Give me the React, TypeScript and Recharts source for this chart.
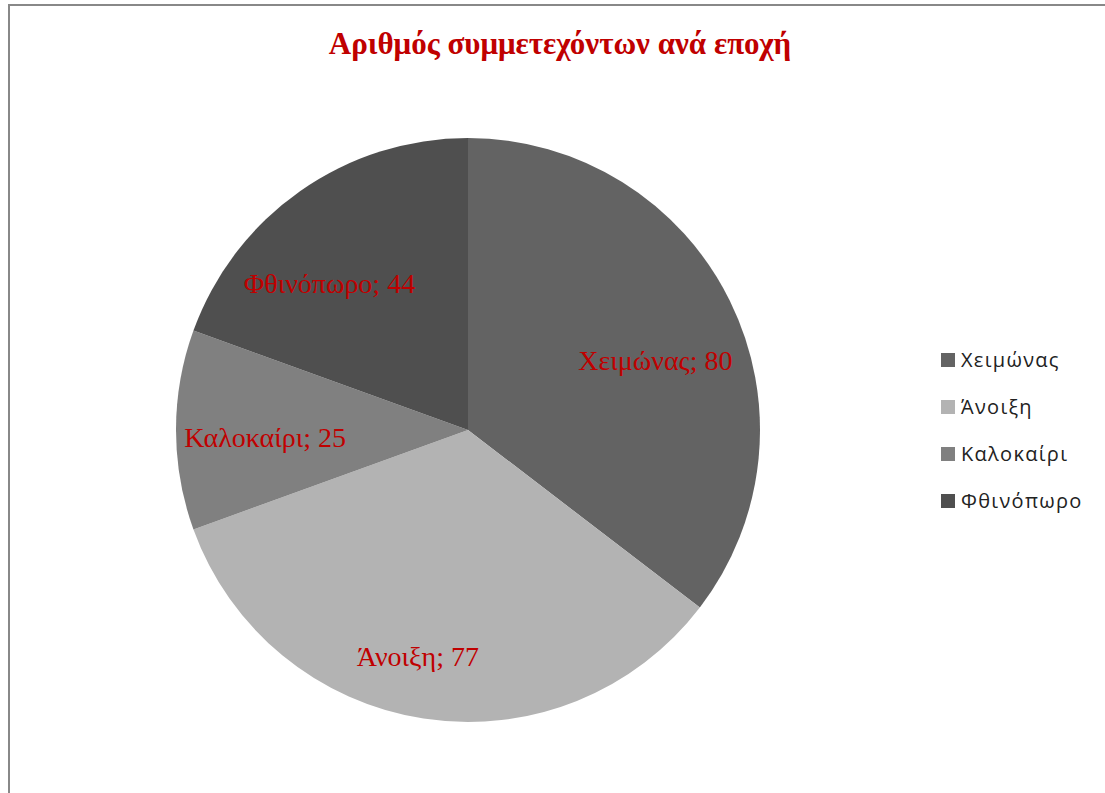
import React from "react";
import { Cell, Legend, Pie, PieChart } from "recharts";

const seasons = ["Χειμώνας", "Άνοιξη", "Καλοκαίρι", "Φθινόπωρο"];
const participants = [80, 77, 25, 44];
const sliceColors = ["#636363", "#b3b3b3", "#808080", "#4f4f4f"];
// label placement inside each slice (fraction of radius, angle nudge in degrees)
const labelRadius = [0.685, 0.795, 0.695, 0.69];
const labelNudge = [-5.8, -3.7, 2, 8.4];

const data = seasons.map((name, i) => ({ name, value: participants[i] }));

const RAD = Math.PI / 180;

function renderLabel(props: any) {
  const { cx, cy, midAngle, outerRadius, index, name, value } = props;
  const r = outerRadius * labelRadius[index];
  const a = midAngle + labelNudge[index];
  const x = cx + r * Math.cos(-a * RAD);
  const y = cy + r * Math.sin(-a * RAD);
  return (
    <text
      x={x}
      y={y}
      textAnchor="middle"
      dominantBaseline="central"
      fill="#c00000"
      style={{ fontFamily: "'Liberation Serif', serif", fontSize: 28 }}
    >
      {`${name}; ${value}`}
    </text>
  );
}

function SeasonLegend() {
  return (
    <div style={{ fontFamily: "'Open Sans', sans-serif", fontSize: 20, letterSpacing: 1.3, color: "#222" }}>
      {seasons.map((s, i) => (
        <div key={s} style={{ display: "flex", alignItems: "center", height: 47 }}>
          <span style={{ width: 14, height: 14, background: sliceColors[i], marginRight: 6, display: "inline-block" }} />
          <span>{s}</span>
        </div>
      ))}
    </div>
  );
}

export default function App() {
  return (
    <div style={{ position: "absolute", left: 0, top: 0, width: 1105, height: 793, background: "#fff", overflow: "hidden" }}>
      <div style={{ position: "absolute", left: 8, top: 4, width: 1110, height: 800, borderLeft: "2px solid #888", borderTop: "2px solid #888" }} />
      <div
        style={{
          position: "absolute",
          left: 0,
          top: 26,
          width: 1120,
          textAlign: "center",
          fontFamily: "'Liberation Serif', serif",
          fontWeight: "bold",
          fontSize: 31,
          color: "#c00000",
        }}
      >
        Αριθμός συμμετεχόντων ανά εποχή
      </div>
      <div style={{ position: "absolute", left: 0, top: 0 }}>
        <PieChart width={1105} height={793} margin={{ top: 0, right: 0, bottom: 0, left: 0 }}>
          <Pie
            data={data}
            dataKey="value"
            nameKey="name"
            cx={468}
            cy={430}
            outerRadius={292}
            startAngle={90}
            endAngle={-270}
            stroke="none"
            label={renderLabel}
            labelLine={false}
            isAnimationActive={false}
          >
            {data.map((d, i) => (
              <Cell key={d.name} fill={sliceColors[i]} />
            ))}
          </Pie>
          <Legend
            layout="vertical"
            content={() => <SeasonLegend />}
            wrapperStyle={{ left: 941, top: 336, width: 164 }}
          />
        </PieChart>
      </div>
    </div>
  );
}
